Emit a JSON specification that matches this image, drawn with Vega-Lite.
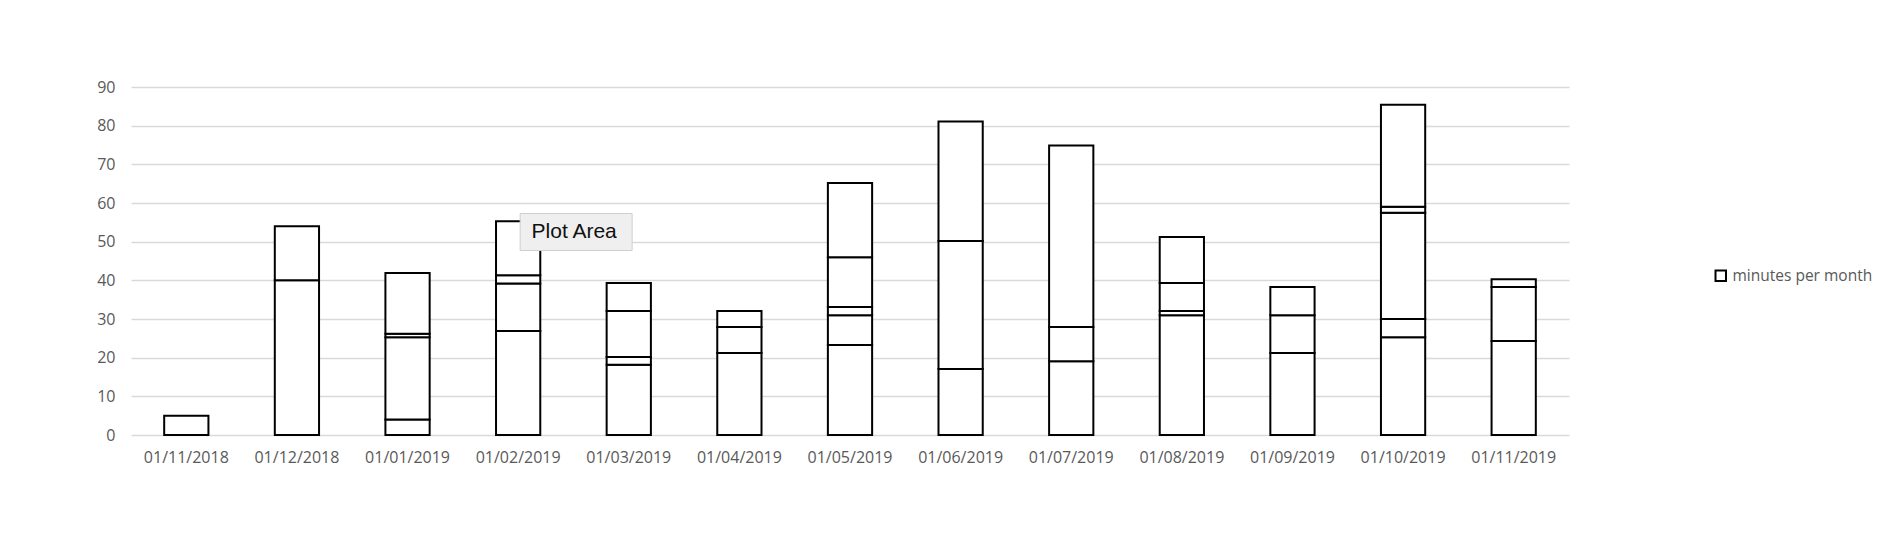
{
  "$schema": "https://vega.github.io/schema/vega-lite/v6.json",
  "autosize": {"type": "none"},
  "padding": {"left": 131, "top": 87, "right": 319, "bottom": 113},
  "width": 1438,
  "height": 348,
  "background": "white",
  "config": {
    "view": {"stroke": null},
    "axis": {
      "labelFont": "Open Sans",
      "labelFontSize": 16,
      "labelColor": "#595959",
      "ticks": false,
      "domain": false,
      "title": null
    },
    "legend": {
      "labelFont": "Open Sans",
      "labelFontSize": 15.5,
      "labelColor": "#595959"
    }
  },
  "datasets": {
    "minutes": [
      {"month": "01/11/2018", "seg": 1, "minutes": 5},
      {"month": "01/12/2018", "seg": 1, "minutes": 40},
      {"month": "01/12/2018", "seg": 2, "minutes": 14},
      {"month": "01/01/2019", "seg": 1, "minutes": 4},
      {"month": "01/01/2019", "seg": 2, "minutes": 21.3},
      {"month": "01/01/2019", "seg": 3, "minutes": 0.9},
      {"month": "01/01/2019", "seg": 4, "minutes": 15.7},
      {"month": "01/02/2019", "seg": 1, "minutes": 26.9},
      {"month": "01/02/2019", "seg": 2, "minutes": 12.3},
      {"month": "01/02/2019", "seg": 3, "minutes": 2.1},
      {"month": "01/02/2019", "seg": 4, "minutes": 14},
      {"month": "01/03/2019", "seg": 1, "minutes": 18.2},
      {"month": "01/03/2019", "seg": 2, "minutes": 2},
      {"month": "01/03/2019", "seg": 3, "minutes": 11.9},
      {"month": "01/03/2019", "seg": 4, "minutes": 7.2},
      {"month": "01/04/2019", "seg": 1, "minutes": 21.2},
      {"month": "01/04/2019", "seg": 2, "minutes": 6.7},
      {"month": "01/04/2019", "seg": 3, "minutes": 4.2},
      {"month": "01/05/2019", "seg": 1, "minutes": 23.3},
      {"month": "01/05/2019", "seg": 2, "minutes": 7.7},
      {"month": "01/05/2019", "seg": 3, "minutes": 2.1},
      {"month": "01/05/2019", "seg": 4, "minutes": 12.9},
      {"month": "01/05/2019", "seg": 5, "minutes": 19.2},
      {"month": "01/06/2019", "seg": 1, "minutes": 17.1},
      {"month": "01/06/2019", "seg": 2, "minutes": 33.1},
      {"month": "01/06/2019", "seg": 3, "minutes": 30.9},
      {"month": "01/07/2019", "seg": 1, "minutes": 19.1},
      {"month": "01/07/2019", "seg": 2, "minutes": 8.8},
      {"month": "01/07/2019", "seg": 3, "minutes": 47},
      {"month": "01/08/2019", "seg": 1, "minutes": 31},
      {"month": "01/08/2019", "seg": 2, "minutes": 1.1},
      {"month": "01/08/2019", "seg": 3, "minutes": 7.2},
      {"month": "01/08/2019", "seg": 4, "minutes": 11.9},
      {"month": "01/09/2019", "seg": 1, "minutes": 21.2},
      {"month": "01/09/2019", "seg": 2, "minutes": 9.8},
      {"month": "01/09/2019", "seg": 3, "minutes": 7.3},
      {"month": "01/10/2019", "seg": 1, "minutes": 25.3},
      {"month": "01/10/2019", "seg": 2, "minutes": 4.7},
      {"month": "01/10/2019", "seg": 3, "minutes": 27.5},
      {"month": "01/10/2019", "seg": 4, "minutes": 1.5},
      {"month": "01/10/2019", "seg": 5, "minutes": 26.4},
      {"month": "01/11/2019", "seg": 1, "minutes": 24.3},
      {"month": "01/11/2019", "seg": 2, "minutes": 14},
      {"month": "01/11/2019", "seg": 3, "minutes": 2}
    ],
    "note": [
      {"month": "01/02/2019", "minutes": 52.5, "label": "Plot Area"}
    ]
  },
  "encoding": {
    "x": {
      "field": "month",
      "type": "nominal",
      "sort": ["01/11/2018","01/12/2018","01/01/2019","01/02/2019","01/03/2019","01/04/2019","01/05/2019","01/06/2019","01/07/2019","01/08/2019","01/09/2019","01/10/2019","01/11/2019"],
      "scale": {"paddingInner": 0.6, "paddingOuter": 0.3},
      "axis": {"labelAngle": 0, "labelPadding": 14, "grid": false}
    },
    "y": {
      "field": "minutes",
      "type": "quantitative",
      "scale": {"domain": [0, 90], "nice": false},
      "axis": {"values": [0,10,20,30,40,50,60,70,80,90], "grid": true, "gridColor": "#d9d9d9", "gridWidth": 1.3, "labelPadding": 16, "labelOverlap": false}
    }
  },
  "layer": [
    {
      "data": {"name": "minutes"},
      "mark": {"type": "bar", "stroke": "black", "strokeWidth": 2},
      "encoding": {
        "order": {"field": "seg", "type": "quantitative"},
        "detail": {"field": "seg", "type": "ordinal"},
        "color": {
          "datum": "minutes per month",
          "type": "nominal",
          "scale": {"range": ["white"]},
          "legend": {
            "title": null,
            "orient": "none",
            "legendX": 1582,
            "legendY": 181,
            "symbolType": "square",
            "symbolSize": 110,
            "symbolStrokeColor": "black",
            "symbolStrokeWidth": 2,
            "labelOffset": 4
          }
        }
      }
    },
    {
      "data": {"name": "note"},
      "mark": {"type": "point", "shape": "M-1,-0.33H1V0.33H-1Z", "size": 12544, "filled": true, "fill": "#efefef", "stroke": "#cfcfcf", "strokeWidth": 1, "opacity": 1, "xOffset": 58}
    },
    {
      "data": {"name": "note"},
      "mark": {"type": "text", "font": "Liberation Sans", "fontSize": 21, "color": "#111111", "dx": 56, "baseline": "middle", "align": "center"},
      "encoding": {
        "text": {"field": "label"}
      }
    }
  ]
}
